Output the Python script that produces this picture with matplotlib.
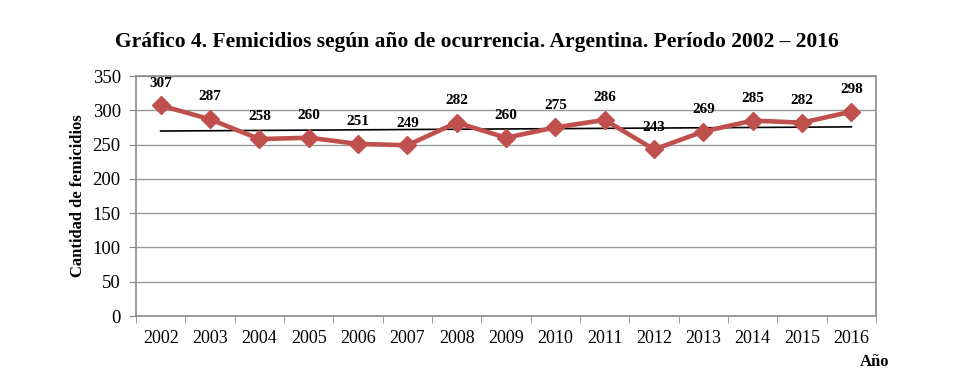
import numpy as np
import matplotlib.pyplot as plt

# datos
anios = ["2002", "2003", "2004", "2005", "2006", "2007", "2008", "2009",
         "2010", "2011", "2012", "2013", "2014", "2015", "2016"]
femicidios = [307, 287, 258, 260, 251, 249, 282, 260, 275, 286, 243, 269, 285, 282, 298]

plt.rcParams["font.family"] = ["Liberation Serif", "DejaVu Serif"]

fig = plt.figure(figsize=(9.59, 3.9), dpi=100)
ax = fig.add_axes([0.1418, 0.1897, 0.7717, 0.6154])

x = np.arange(len(anios))

# linea de tendencia (lineal, como en Excel)
coef = np.polyfit(x, femicidios, 1)
ax.plot(x, np.polyval(coef, x), color="black", lw=1.2, zorder=2)

ax.plot(x, femicidios, color="#C0504D", lw=3.3, marker="D", markersize=9,
        zorder=3)

for xi, v in zip(x, femicidios):
    ax.annotate(str(v), (xi, v), xytext=(0, 16), textcoords="offset points",
                ha="center", va="center", fontsize=11, fontweight="bold")

ax.set_xlim(-0.5, len(anios) - 0.5)
ax.set_ylim(0, 350)
ax.set_yticks(range(0, 351, 50))
ax.set_xticks(x)
ax.set_xticklabels(anios)
ax.set_xticks(np.arange(-0.5, len(anios)), minor=True)
ax.tick_params(axis="x", which="major", length=0, pad=10, labelsize=13)
ax.tick_params(axis="x", which="minor", length=5, color="#888888")
ax.tick_params(axis="y", length=5, color="#888888", labelsize=13.5, pad=6)

ax.grid(axis="y", color="#9a9a9a", lw=1)
ax.set_axisbelow(True)
for s in ax.spines.values():
    s.set_color("#8c8c8c")
    s.set_linewidth(1.2)

ax.set_ylabel("Cantidad de femicidios", fontsize=12, fontweight="bold",
              labelpad=5)

fig.text(0.497, 0.892, "Gráfico 4. Femicidios según año de ocurrencia. Argentina. Período 2002 – 2016",
         ha="center", va="center", fontsize=15.5, fontweight="bold")
fig.text(0.912, 0.073, "Año", ha="center", va="center", fontsize=12,
         fontweight="bold")

fig.savefig("out.png", dpi=100)
